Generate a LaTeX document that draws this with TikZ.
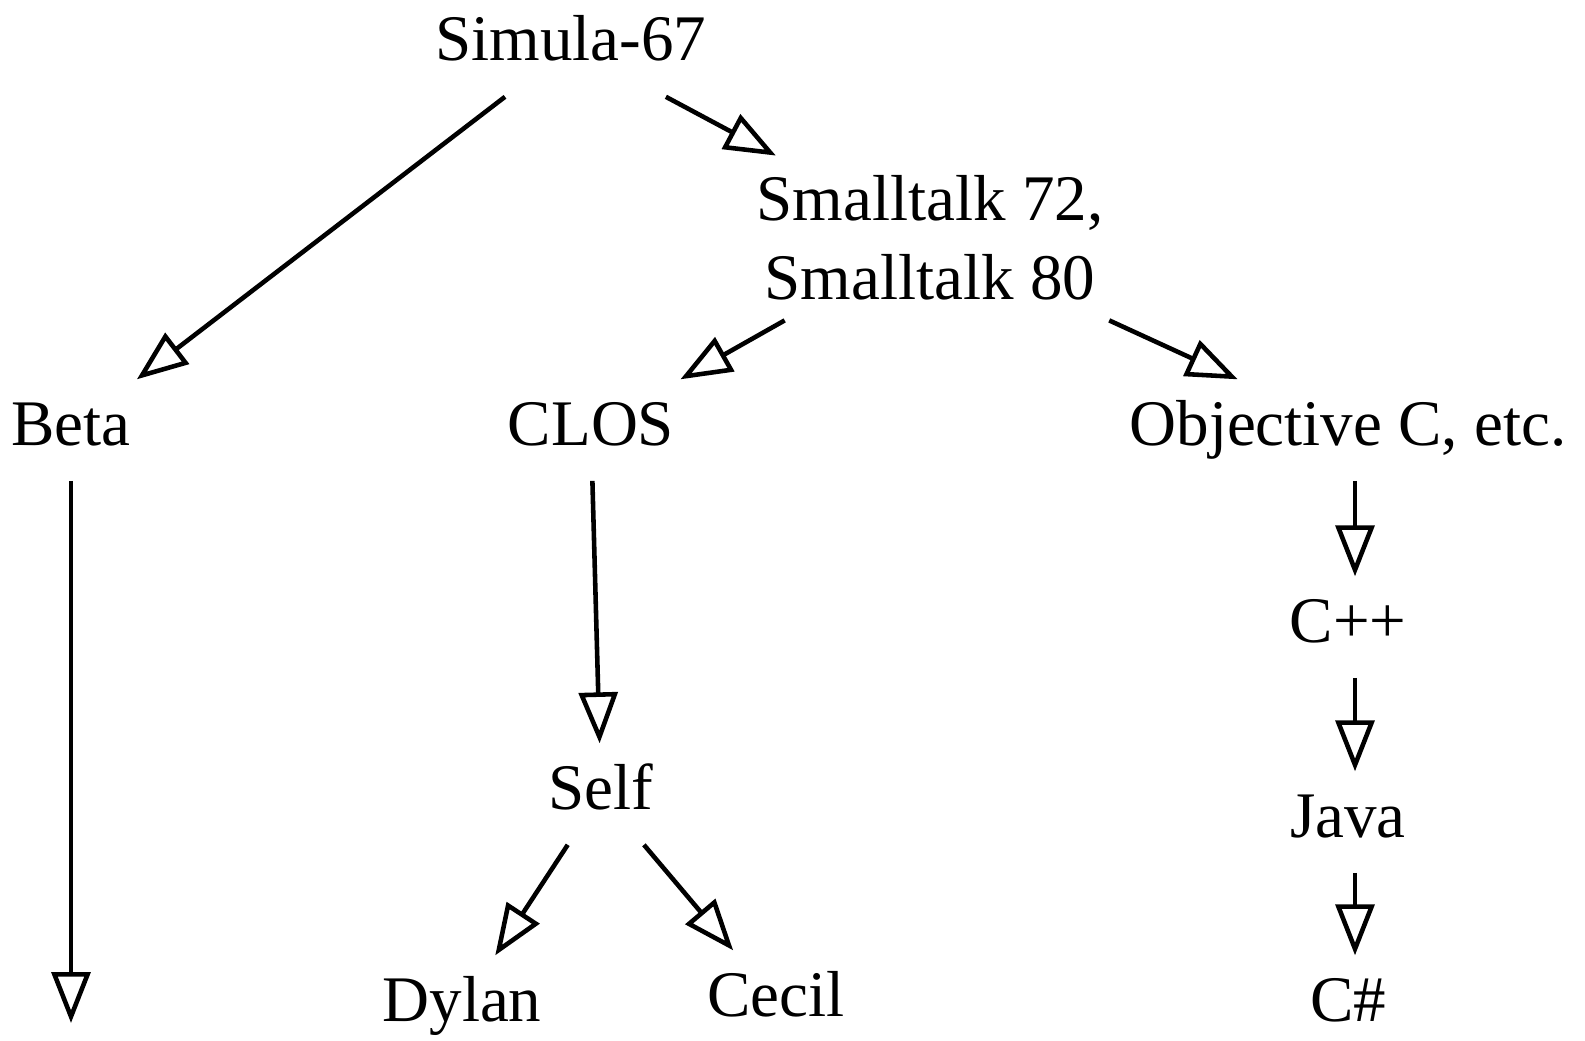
\documentclass[tikz,border=0pt]{standalone}
\usepackage{fontspec}
\setmainfont{Liberation Serif}
\usetikzlibrary{arrows.meta}
\tikzset{
	lang/.style={inner sep=0pt,outer sep=0.4cm,text height=26pt,text depth=9pt,anchor=base},
	tri/.style={-{Triangle[open,length=29pt,width=22pt]},line width=2.6pt}
}

\begin{document}
\begin{tikzpicture}[font=\fontsize{37}{45}\selectfont]
			\useasboundingbox (0,0) rectangle (31.7,20.8);
			\node[lang] (sim) at (11.42,19.58) {Simula-67};
			\node[inner sep=0pt,outer sep=0.4cm,align=center] (st) at (18.6,16.04) {Smalltalk 72,\\Smalltalk 80};
			\node[lang] (beta) at (1.42,11.9) {Beta};
			\node[lang] (clos) at (11.82,11.9) {CLOS};
			\node[lang] (objc) at (26.96,11.9) {Objective C, etc.};
			\node[lang] (cpp) at (26.96,7.96) {C++};
			\node[lang] (java) at (26.96,4.06) {Java};
			\node[lang] (cs) at (26.96,0.38) {C\#};
			\node[lang] (self) at (12.02,4.62) {Self};
			\node[lang] (dyl) at (9.24,0.38) {Dylan};
			\node[lang] (cec) at (15.52,0.48) {Cecil};
			\coordinate (bend) at (1.46,0.34);
			
			\draw[tri] (sim) -- (beta);
			\draw[tri] (sim) -- (st);
			\draw[tri] (st) -- (clos);
			\draw[tri] (st) -- (objc);
			\draw[tri] (beta) -- (beta.south |- bend);
			\draw[tri] (clos) -- (self);
			\draw[tri] (self) -- (dyl);
			\draw[tri] (self) -- (cec);
			\draw[tri] ([xshift=1.4mm]objc.south) -- ([xshift=1.4mm]cpp.north);
			\draw[tri] ([xshift=1.4mm]cpp.south) -- ([xshift=1.4mm]java.north);
			\draw[tri] ([xshift=1.4mm]java.south) -- ([xshift=1.4mm]cs.north);
		\end{tikzpicture}
\end{document}
